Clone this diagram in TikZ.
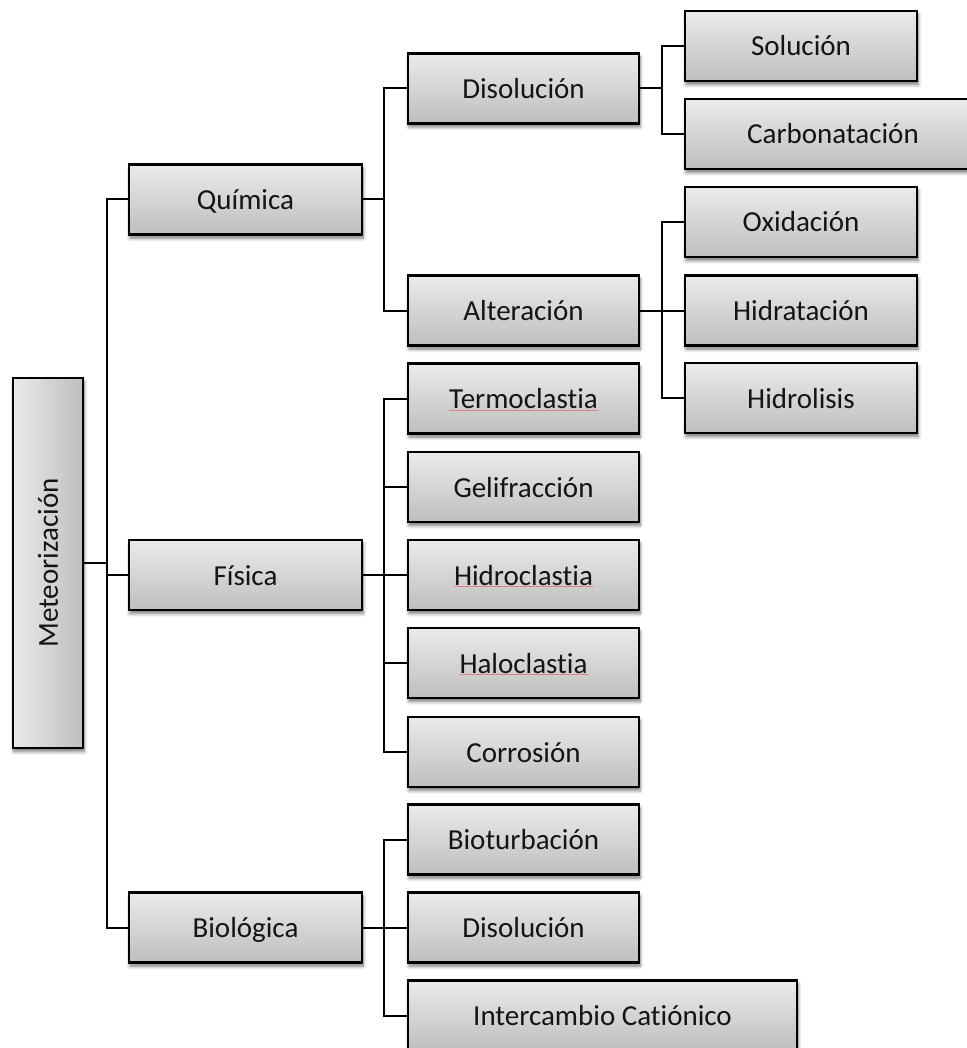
\documentclass[tikz,border=0pt]{standalone}
\usepackage{fontspec}
\setmainfont{Carlito}[Ligatures=NoCommon]
\usetikzlibrary{shadows.blur}
\definecolor{boxtop}{HTML}{EBEBEB}
\definecolor{boxbottom}{HTML}{BEBEBE}
\definecolor{spellred}{HTML}{E58080}
% thin red underline beneath a word
\newcommand\spellmark[1]{\setbox0\hbox{#1}\rlap{\textcolor{spellred}{\rule[-2pt]{\wd0}{0.9pt}}}\box0}
\tikzset{
  box/.style={draw=black, line width=2.4pt, inner sep=0pt,
    top color=boxtop, bottom color=boxbottom,
    blur shadow={shadow xshift=1pt, shadow yshift=-3.5pt, shadow blur radius=3.5pt,
      shadow blur steps=6, shadow opacity=55},
    text=black!92, font=\fontsize{29}{35}\selectfont},
  cell/.style={box, text height=20pt, text depth=0pt, minimum height=70pt},
  lvlone/.style={cell, minimum width=233pt},
  lvltwo/.style={cell, minimum width=231pt},
  lvlthree/.style={cell, minimum width=232pt},
  link/.style={line width=2pt, black}
}
\begin{document}
\begin{tikzpicture}[x=1pt, y=-1pt]
\useasboundingbox (0,0) rectangle (966,1048);

% root
\node[box, minimum width=70pt, minimum height=370pt, left color=boxtop, right color=boxbottom]
  (meteor) at (48,563) {\rotatebox{90}{Meteorización}};

% first level
\node[lvlone] (quimica)   at (245.5,199.5) {Química};
\node[lvlone] (fisica)    at (245.5,575)   {Física};
\node[lvlone] (biologica) at (245.5,927.5) {Biológica};

% second level: chemical
\node[lvltwo] (disolA)     at (523.5,88.5)  {Disolución};
\node[lvltwo] (alteracion) at (523.5,310.5) {Alteración};

% second level: physical
\node[lvltwo] (termo)  at (523.5,398.5) {\spellmark{Termoclastia}};
\node[lvltwo] (geli)   at (523.5,487)   {Gelifracción};
\node[lvltwo] (hidroc) at (523.5,575)   {\spellmark{Hidroclastia}};
\node[lvltwo] (halo)   at (523.5,663)   {\spellmark{Haloclastia}};
\node[lvltwo] (corr)   at (523.5,752)   {Corrosión};

% second level: biological
\node[lvltwo] (biotur) at (523.5,839.5) {Bioturbación};
\node[lvltwo] (disolB) at (523.5,927.5) {Disolución};
\node[cell, minimum width=389pt] (intercambio) at (602.5,1015.5) {Intercambio Catiónico};

% third level
\node[lvlthree] (solucion) at (801,46) {Solución};
\node[cell, minimum width=296pt] (carbon) at (833,134) {Carbonatación};
\node[lvlthree] (oxid)  at (801,222) {Oxidación};
\node[lvlthree] (hidrat) at (801,310.5) {Hidratación};
\node[lvlthree] (hidrol) at (801,398) {Hidrolisis};

% connectors
\foreach \c in {quimica, fisica, biologica}
  \draw[link] (meteor.east) -- ++(23,0) |- (\c.west);
\foreach \c in {disolA, alteracion}
  \draw[link] (quimica.east) -- ++(21,0) |- (\c.west);
\foreach \c in {termo, geli, hidroc, halo, corr}
  \draw[link] (fisica.east) -- ++(21,0) |- (\c.west);
\foreach \c in {biotur, disolB, intercambio}
  \draw[link] (biologica.east) -- ++(21,0) |- (\c.west);
\foreach \c in {solucion, carbon}
  \draw[link] (disolA.east) -- ++(22,0) |- (\c.west);
\foreach \c in {oxid, hidrat, hidrol}
  \draw[link] (alteracion.east) -- ++(22,0) |- (\c.west);
\end{tikzpicture}
\end{document}
